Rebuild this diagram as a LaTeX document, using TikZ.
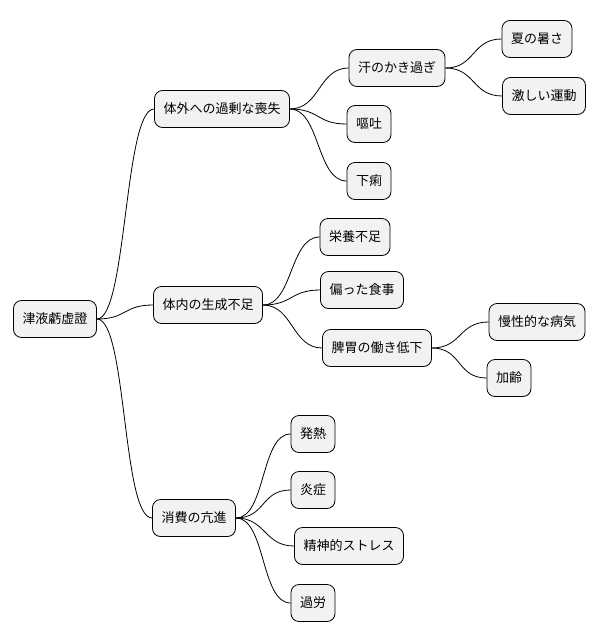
\documentclass[tikz,border=0pt]{standalone}
\usepackage{fontspec}
\setmainfont{Noto Sans CJK JP}
\begin{document}
\begin{tikzpicture}[x=1pt,y=-1pt,
  box/.style={draw=black,fill=black!5,rounded corners=8pt,minimum height=37pt,inner xsep=9pt,font=\fontsize{13pt}{15pt}\selectfont,line width=0.8pt},
  edge/.style={draw=black,line width=0.8pt}]
\useasboundingbox (0,0) rectangle (600,640);
\node[box] (r) at (55,319) {津液虧虚證};
\node[box] (a) at (222,109) {体外への過剰な喪失};
\node[box] (a1) at (397,68) {汗のかき過ぎ};
\node[box] (a11) at (537,39) {夏の暑さ};
\node[box] (a12) at (544,96) {激しい運動};
\node[box] (a2) at (369,124) {嘔吐};
\node[box] (a3) at (369,181) {下痢};
\node[box] (b) at (208,305) {体内の生成不足};
\node[box] (b1) at (355,237) {栄養不足};
\node[box] (b2) at (362,290) {偏った食事};
\node[box] (b3) at (377,348) {脾胃の働き低下};
\node[box] (b31) at (537,322) {慢性的な病気};
\node[box] (b32) at (509,378) {加齢};
\node[box] (c) at (194,518) {消費の亢進};
\node[box] (c1) at (313,434) {発熱};
\node[box] (c2) at (313,490) {炎症};
\node[box] (c3) at (349,546) {精神的ストレス};
\node[box] (c4) at (313,603) {過労};
\foreach \p/\c in {r/a,r/b,r/c,a/a1,a/a2,a/a3,a1/a11,a1/a12,b/b1,b/b2,b/b3,b3/b31,b3/b32,c/c1,c/c2,c/c3,c/c4}
  \draw[edge] (\p.east) .. controls +(30,0) and +(-30,0) .. (\c.west);
\end{tikzpicture}
\end{document}
